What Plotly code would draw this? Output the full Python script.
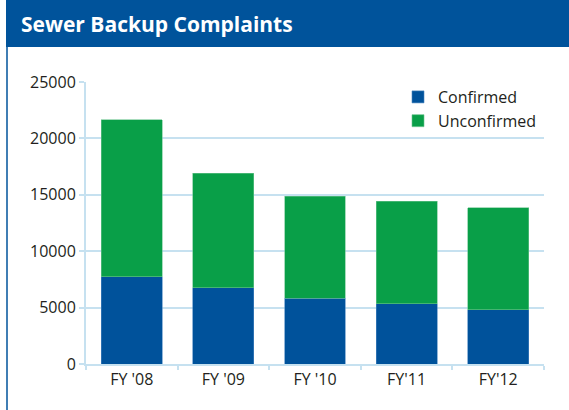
import plotly.graph_objects as go

categories = ["FY '08", "FY '09", "FY '10", "FY'11", "FY'12"]
confirmed = [7750, 6780, 5830, 5330, 4820]
unconfirmed = [13900, 10120, 9030, 9080, 9030]
y_ticks = [0, 5000, 10000, 15000, 20000, 25000]
y_tick_labels = ["0", "5000", "10000", "15000", "20000", "25000"]

BLUE = "#00529b"
GREEN = "#099f48"
GRID = "#c6e1f0"
FONT = "Open Sans"

W, H = 569, 410
L, R, T, B = 86, 25, 82, 46
pw, ph = W - L - R, H - T - B

def px(x):
    return (x - L) / pw

def py(y):
    return (H - B - y) / ph

fig = go.Figure()
fig.add_bar(x=categories, y=confirmed, name="Confirmed",
            marker=dict(color=BLUE, line=dict(color="#4a86c0", width=0.6)))
fig.add_bar(x=categories, y=unconfirmed, name="Unconfirmed",
            marker=dict(color=GREEN, line=dict(color="#6cc58f", width=0.6)))

fig.update_layout(
    width=W, height=H,
    margin=dict(l=L, r=R, t=T, b=B, pad=0),
    barmode="stack", bargap=0.335,
    plot_bgcolor="white", paper_bgcolor="white",
    font=dict(family=FONT, size=16, color="#231f20"),
    showlegend=True,
    legend=dict(x=px(398), y=py(80), xanchor="left", yanchor="top",
                traceorder="normal", font=dict(size=16, color="#231f20"),
                bgcolor="rgba(0,0,0,0)", itemwidth=30, tracegroupgap=0),
    xaxis=dict(showline=True, linecolor=GRID, linewidth=2,
               ticks="outside", tickson="boundaries", ticklen=4,
               tickcolor=GRID, tickwidth=1.5, showgrid=False,
               tickfont=dict(size=16)),
    yaxis=dict(range=[0, 25000], tickvals=y_ticks, ticktext=y_tick_labels,
               showline=True,
               linecolor=GRID, linewidth=2, gridcolor=GRID, gridwidth=1.5,
               ticks="outside", ticklen=5, tickcolor=GRID, tickwidth=1.5,
               zeroline=False, tickfont=dict(size=16)),
    shapes=[
        dict(type="rect", xref="paper", yref="paper",
             x0=px(6), x1=px(W + 2), y0=py(47), y1=py(-2),
             fillcolor="#00539b", line=dict(width=0), layer="above"),
        dict(type="line", xref="paper", yref="paper",
             x0=px(7), x1=px(7), y0=py(47), y1=py(H + 2),
             line=dict(color="#00539b", width=1.5)),
    ],
    annotations=[
        dict(text="<b>Sewer Backup Complaints</b>", xref="paper", yref="paper",
             x=px(19), y=py(24), xanchor="left", yanchor="middle",
             showarrow=False, font=dict(family=FONT, size=21, color="white")),
    ],
)

fig.write_html("out.html", config={"displayModeBar": False},
               post_script="document.body.style.margin='0';document.body.style.padding='0';")
